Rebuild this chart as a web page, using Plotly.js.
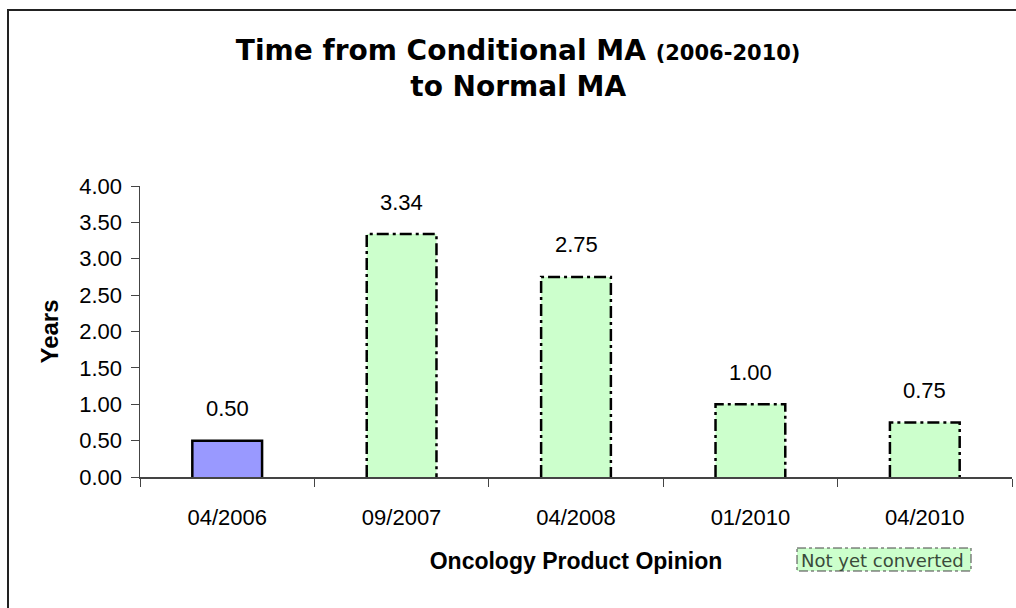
<!DOCTYPE html>
<html>
<head>
<meta charset="utf-8">
<script src="https://cdn.plot.ly/plotly-3.0.1.min.js"></script>
<style>
  html, body { margin: 0; padding: 0; background: #fff; overflow: hidden; }
  #chart { width: 1016px; height: 608px; position: absolute; left: 0; top: 0; }
  #frame { position: absolute; left: 7px; top: 9px; width: 1100px; height: 700px;
           border-left: 2px solid #222; border-top: 2px solid #222; pointer-events: none; }
</style>
</head>
<body>
<div id="chart"></div>
<div id="frame"></div>
<script>
// ---- data ----
const categories = ["04/2006", "09/2007", "04/2008", "01/2010", "04/2010"];
const years = [0.50, 3.34, 2.75, 1.00, 0.75];
const converted = [true, false, false, false, false];
const yTickVals = [0, 0.5, 1, 1.5, 2, 2.5, 3, 3.5, 4];

// ---- styles ----
const BLUE = "#9999ff", GREEN = "#ccffcc";
const BAR_W = 0.4;
const arial = "Liberation Sans, Arial, sans-serif";

const colors = converted.map(c => c ? BLUE : GREEN);

const barTrace = {
  type: "bar", x: categories, y: years, width: BAR_W,
  marker: { color: colors, line: { width: 0 } },
  hoverinfo: "x+y", showlegend: false
};

// outlines built from the data (solid for converted, dash-dot otherwise)
function outline(filterFn) {
  const xs = [], ys = [];
  years.forEach((v, i) => {
    if (!filterFn(i)) return;
    xs.push(i - BAR_W / 2, i - BAR_W / 2, i + BAR_W / 2, i + BAR_W / 2, null);
    ys.push(0, v, v, 0, null);
  });
  return { xs, ys };
}
const solid = outline(i => converted[i]);
const dashed = outline(i => !converted[i]);

const solidTrace = {
  type: "scatter", mode: "lines", x: solid.xs, y: solid.ys, xaxis: "x2",
  line: { color: "#000", width: 2.5 }, hoverinfo: "skip", showlegend: false, connectgaps: false
};
const dashTrace = {
  type: "scatter", mode: "lines", x: dashed.xs, y: dashed.ys, xaxis: "x2",
  line: { color: "#000", width: 2.5, dash: "12px,4px,3px,4px" }, hoverinfo: "skip", showlegend: false, connectgaps: false
};

const labelAnnotations = years.map((v, i) => ({
  x: categories[i], y: v, xref: "x", yref: "y",
  text: v.toFixed(2), showarrow: false, yanchor: "middle", yshift: 32,
  font: { family: arial, size: 22, color: "#000" }
}));

const layout = {
  width: 1016, height: 608,
  paper_bgcolor: "#fff", plot_bgcolor: "#fff",
  margin: { l: 140, r: 4, t: 186, b: 131, pad: 0 },
  title: {
    text: "Time from Conditional MA <span style='font-size:21px'>(2006-2010)</span><br>to Normal MA",
    font: { family: "DejaVu Sans, sans-serif", size: 28, color: "#000", weight: "bold" },
    x: 0.51, xanchor: "center", xref: "container",
    y: 1 - 60 / 608, yanchor: "top", yref: "container"
  },
  bargap: 0.6,
  xaxis: {
    type: "category", range: [-0.5, 4.5], tickson: "boundaries",
    ticks: "outside", ticklen: 8, tickcolor: "#444", tickwidth: 1,
    ticklabelstandoff: 20,
    showline: true, linecolor: "#444", linewidth: 1.5,
    showgrid: false, zeroline: false,
    tickfont: { family: arial, size: 22, color: "#000" },
    title: { text: "Oncology Product Opinion", standoff: 24,
             font: { family: arial, size: 23, color: "#000", weight: "bold" } }
  },
  xaxis2: { overlaying: "x", range: [-0.5, 4.5], visible: false, showgrid: false, zeroline: false },
  yaxis: {
    range: [0, 4], tickmode: "array", tickvals: yTickVals, tickformat: ".2f",
    ticks: "outside", ticklen: 8, tickcolor: "#444", tickwidth: 1,
    ticklabelstandoff: 4,
    showline: true, linecolor: "#444", linewidth: 1.5,
    showgrid: false, zeroline: false,
    tickfont: { family: arial, size: 22, color: "#000" },
    title: { text: "Years", standoff: 14,
             font: { family: arial, size: 24, color: "#000", weight: "bold" } }
  },
  annotations: labelAnnotations.concat([{
    xref: "paper", yref: "paper", x: (882 - 140) / 872, y: (477 - 560) / 291,
    text: "Not yet converted", showarrow: false, xanchor: "center", yanchor: "middle",
    font: { family: "DejaVu Sans, sans-serif", size: 18, color: "#3a4a3a" }
  }]),
  shapes: [{
    type: "rect", xref: "paper", yref: "paper", layer: "below",
    x0: (797 - 140) / 872, x1: (971 - 140) / 872,
    y0: (477 - 548) / 291, y1: (477 - 571) / 291,
    fillcolor: GREEN, line: { color: "#444", width: 1, dash: "dashdot" }
  }]
};

Plotly.newPlot("chart", [barTrace, solidTrace, dashTrace], layout, { displayModeBar: false, staticPlot: true });
</script>
</body>
</html>
